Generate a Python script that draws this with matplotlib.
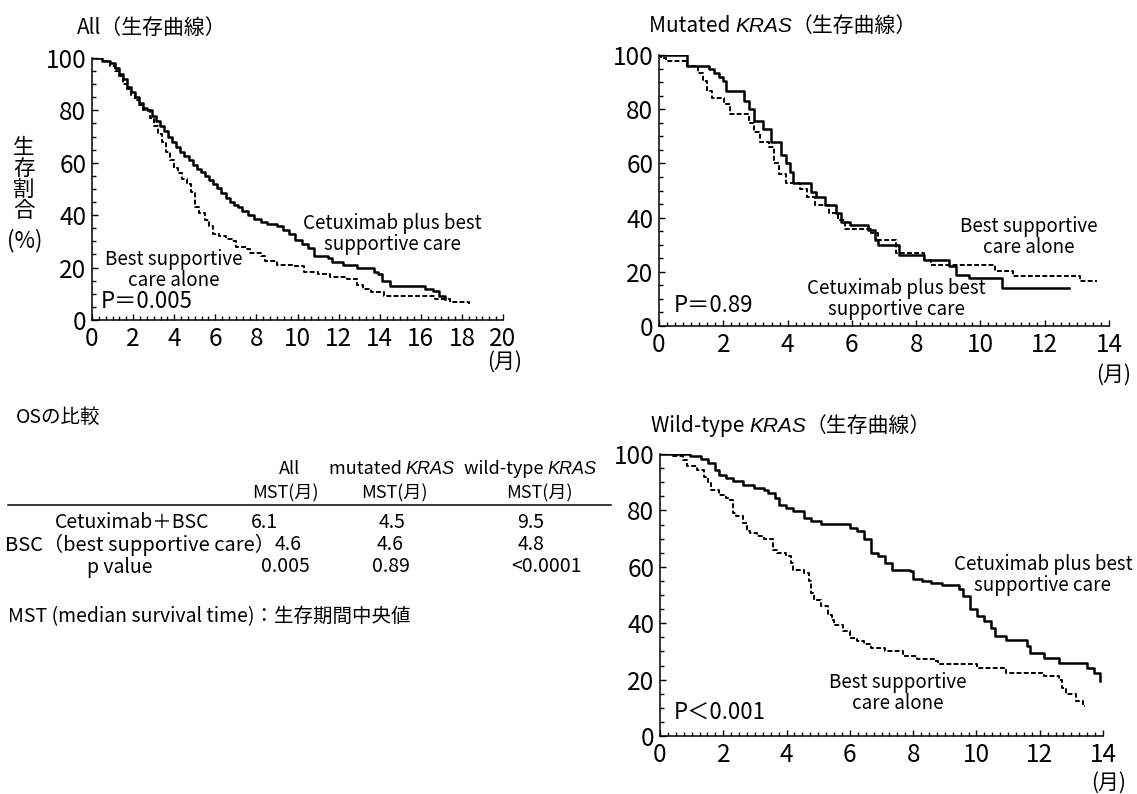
import matplotlib
matplotlib.use("Agg")
import matplotlib.pyplot as plt
from matplotlib.lines import Line2D
from matplotlib.offsetbox import TextArea, HPacker, AnchoredOffsetbox
from matplotlib.ticker import MultipleLocator

plt.rcParams['font.family'] = ['Noto Sans CJK JP', 'DejaVu Sans']

# --- All (生存曲線) ---
all_cet_t = [0, 0.5, 0.9, 1.1, 1.3, 1.5, 1.7, 1.9, 2.1, 2.3, 2.5, 2.7, 2.9, 3.1, 3.3,
             3.5, 3.7, 3.9, 4.1, 4.3, 4.5, 4.7, 4.9, 5.1, 5.3, 5.5, 5.7, 5.9, 6.1, 6.3,
             6.5, 6.7, 6.9, 7.1, 7.3, 7.6, 7.9, 8.2, 8.5, 9.0, 9.3, 9.6, 9.9, 10.2, 10.5,
             10.8, 11.5, 11.7, 12.2, 12.9, 13.7, 13.9, 14.1, 14.5, 16.2, 16.6, 16.9, 17.2]
all_cet_s = [100, 99, 98, 96, 94, 92, 89, 87, 85, 83, 81, 80, 78, 76, 74,
             72, 70, 68, 66, 64, 62.5, 61, 59, 57.5, 56.5, 55, 53.5, 52, 50.5, 48.5,
             46.5, 45, 44, 43, 41.5, 40, 38.5, 37.5, 36.5, 36, 34.5, 33, 30.5, 29, 27.5,
             24.5, 23.5, 22, 21, 20, 18.5, 17.5, 15, 13, 12, 11, 9, 8]
all_bsc_t = [0, 0.5, 0.9, 1.1, 1.3, 1.5, 1.7, 1.9, 2.1, 2.3, 2.5, 2.8, 3.0, 3.2, 3.4,
             3.6, 3.8, 4.0, 4.2, 4.4, 4.6, 4.8, 5.0, 5.2, 5.5, 5.7, 5.9, 6.2, 6.5, 6.8,
             7.0, 7.5, 7.7, 8.2, 8.4, 9.0, 9.8, 10.3, 11.0, 11.6, 12.4, 12.9, 13.2, 13.6,
             14.2, 16.7, 17.4, 18.35]
all_bsc_s = [100, 99, 97, 95, 93, 90, 88, 86, 84, 82, 80, 77, 74, 71, 68,
             64, 61, 58, 56, 54, 52, 49, 43, 41, 38, 36, 33, 32, 31, 30,
             28, 27, 25.5, 24.5, 22.5, 21, 20.5, 18.5, 17.5, 16.5, 15.5, 13.5, 12, 10.5,
             9, 8.2, 7, 6]

# --- Mutated KRAS ---
mut_cet_t = [0, 0.88, 1.54, 1.7, 1.87, 1.98, 2.09, 2.64, 2.8, 2.97, 3.25, 3.47, 3.8,
             3.96, 4.07, 4.16, 4.73, 4.9, 5.17, 5.5, 5.67, 5.94, 6.49, 6.71, 6.82, 7.48,
             8.25, 9.02, 9.24, 9.63, 10.67, 12.76]
mut_cet_s = [100, 96, 94.7, 93.5, 92, 90.5, 86.8, 83, 80, 75.8, 72.7, 67.8, 63,
             60, 57, 52.6, 49.5, 47.7, 44.6, 41.6, 38.5, 37.3, 35.5, 31.8, 30, 26.3,
             24.4, 22, 19, 17.7, 14, 14]
mut_bsc_t = [0, 0.05, 0.22, 0.88, 1.21, 1.38, 1.49, 1.65, 2.03, 2.2, 2.8, 2.97, 3.14,
             3.41, 3.58, 3.74, 3.96, 4.4, 4.62, 4.84, 5.28, 5.56, 5.78, 6.6, 6.82, 7.37,
             8.25, 8.47, 10.45, 11.0, 13.09, 13.64]
mut_bsc_s = [100, 99, 97.8, 96, 93.5, 90.5, 86.8, 84.3, 81.9, 78.2, 75, 71.5, 67.8,
             66, 60, 56, 52.6, 50.7, 47.7, 44.6, 41.6, 39, 35.7, 34.2, 31.8, 26.9,
             24.4, 22.6, 20.2, 18.3, 16.5, 16.5]

# --- Wild-type KRAS ---
wt_cet_t = [0, 0.95, 1.29, 1.51, 1.74, 1.85, 2.07, 2.3, 2.63, 2.97, 3.3, 3.42, 3.64,
            3.75, 3.98, 4.2, 4.54, 4.76, 5.1, 5.99, 6.21, 6.44, 6.66, 6.89, 7.11, 7.33,
            7.89, 8.0, 8.29, 8.57, 8.9, 9.46, 9.57, 9.8, 10.02, 10.25, 10.47, 10.58,
            10.92, 11.59, 11.7, 12.15, 12.6, 13.49, 13.72, 13.89, 13.92]
wt_cet_s = [100, 99.4, 98.2, 96.8, 94.4, 92.6, 91.5, 90.3, 89, 88, 87.2, 86.2, 84.4,
            82, 80.9, 79.7, 77.3, 76.2, 75.2, 73.8, 72.6, 69.7, 64.9, 63.7, 61.4, 59,
            58.4, 55.5, 54.9, 54.3, 53.7, 52, 49.6, 44.9, 42.5, 40.7, 38.4, 35.4,
            34.2, 31.9, 29.5, 27.7, 26, 24.2, 22.4, 19.5, 19.5]
wt_bsc_t = [0, 0.39, 0.73, 0.84, 1.18, 1.4, 1.51, 1.62, 1.85, 2.07, 2.18, 2.3, 2.41,
            2.63, 2.74, 2.86, 3.08, 3.3, 3.58, 3.7, 3.98, 4.14, 4.2, 4.54, 4.7, 4.76,
            4.87, 5.1, 5.32, 5.43, 5.49, 5.77, 5.99, 6.21, 6.44, 6.66, 7.11, 7.67, 8.12,
            8.68, 8.79, 10.02, 10.92, 12.15, 12.6, 12.71, 12.82, 13.16, 13.38, 13.42]
wt_bsc_s = [100, 99.2, 98, 95.6, 94.4, 92, 89.7, 87.4, 85.6, 84.4, 83.8, 79, 78,
            75.5, 72.6, 72, 70.8, 69.7, 66, 65, 63.7, 61.4, 59, 57.9, 54.9, 50.8,
            48.4, 46, 43, 41.3, 39.5, 37.2, 34.8, 33.6, 32.5, 31.3, 30, 28.3, 27.2,
            26.6, 25.4, 24.2, 22.4, 21.3, 20, 17.1, 14.8, 12.4, 10.6, 10.6]

# --- OSの比較 (table) ---
row_labels = ['Cetuximab＋BSC', 'BSC（best supportive care）', 'p value']
mst_all = ['6.1', '4.6', '0.005']
mst_mut = ['4.5', '4.6', '0.89']
mst_wt = ['9.5', '4.8', '<0.0001']

W, H = 1137, 794
fig = plt.figure(figsize=(W / 100, H / 100), dpi=100)


def px(x, y):
    return x / W, 1 - y / H


def make_axes(left, top, right, bottom, xmax, xminor):
    ax = fig.add_axes([left / W, 1 - bottom / H, (right - left) / W, (bottom - top) / H])
    ax.set_xlim(0, xmax)
    ax.set_ylim(0, 100)
    ax.patch.set_alpha(0)
    for s in ['top', 'right']:
        ax.spines[s].set_visible(False)
    for s in ['left', 'bottom']:
        ax.spines[s].set_linewidth(1.1)
    ax.xaxis.set_major_locator(MultipleLocator(2))
    ax.xaxis.set_minor_locator(MultipleLocator(xminor))
    ax.yaxis.set_major_locator(MultipleLocator(20))
    ax.yaxis.set_minor_locator(MultipleLocator(5))
    ax.tick_params(which='both', direction='in', width=1.0, labelsize=17.5, pad=4)
    ax.tick_params(which='major', length=4.5)
    ax.tick_params(which='minor', length=3)
    return ax


def curves(ax, t1, s1, t2, s2):
    ax.step(t1, s1, where='post', color='black', lw=1.8)
    ax.step(t2, s2, where='post', color='black', lw=1.4, linestyle=(0, (2.5, 1.2)))


def mixed(x, y, parts, size, loc='center left'):
    areas = []
    for txt, italic in parts:
        if italic:
            props = dict(fontsize=size, fontstyle='italic', family=['Liberation Sans'])
        else:
            props = dict(fontsize=size)
        areas.append(TextArea(txt, textprops=props))
    box = HPacker(children=areas, align='baseline', pad=0, sep=0)
    anchored = AnchoredOffsetbox(loc=loc, child=box, pad=0, borderpad=0, frameon=False,
                                 bbox_to_anchor=px(x, y), bbox_transform=fig.transFigure)
    fig.add_artist(anchored)


# パネル1: All
ax1 = make_axes(92, 58, 503, 320, 20, 1 / 3)
curves(ax1, all_cet_t, all_cet_s, all_bsc_t, all_bsc_s)
ax1.text(14.6, 33, 'Cetuximab plus best\nsupportive care', ha='center', va='center',
         fontsize=13.5, linespacing=1.0)
ax1.text(4.0, 19, 'Best supportive\ncare alone', ha='center', va='center',
         fontsize=13.5, linespacing=1.0)
ax1.text(0.45, 7, 'P＝0.005', ha='left', va='center', fontsize=16)
fig.text(*px(77, 28), 'All（生存曲線）', ha='left', va='center', fontsize=15)
fig.text(*px(505, 362), '(月)', ha='center', va='center', fontsize=15)
for i, ch in enumerate('生存割合'):
    fig.text(*px(24, 148 + i * 21), ch, ha='center', va='center', fontsize=15.5)
fig.text(*px(25, 241), '(%)', ha='center', va='center', fontsize=16)

# パネル2: Mutated KRAS
ax2 = make_axes(659, 55, 1109, 326, 14, 0.25)
curves(ax2, mut_cet_t, mut_cet_s, mut_bsc_t, mut_bsc_s)
ax2.text(11.5, 32.7, 'Best supportive\ncare alone', ha='center', va='center',
         fontsize=13.5, linespacing=1.0)
ax2.text(7.4, 9.8, 'Cetuximab plus best\nsupportive care', ha='center', va='center',
         fontsize=13.5, linespacing=1.0)
ax2.text(0.45, 7.6, 'P＝0.89', ha='left', va='center', fontsize=16)
mixed(649, 26, [('Mutated ', False), ('KRAS', True), ('（生存曲線）', False)], 15)
fig.text(*px(1114, 375), '(月)', ha='center', va='center', fontsize=15)

# パネル3: Wild-type KRAS
ax3 = make_axes(660, 454, 1103, 736, 14, 0.25)
curves(ax3, wt_cet_t, wt_cet_s, wt_bsc_t, wt_bsc_s)
ax3.text(12.1, 57, 'Cetuximab plus best\nsupportive care', ha='center', va='center',
         fontsize=13.5, linespacing=1.0)
ax3.text(7.5, 15.3, 'Best supportive\ncare alone', ha='center', va='center',
         fontsize=13.5, linespacing=1.0)
ax3.text(0.45, 8.3, 'P＜0.001', ha='left', va='center', fontsize=16)
mixed(651, 426, [('Wild-type ', False), ('KRAS', True), ('（生存曲線）', False)], 15)
fig.text(*px(1109, 783), '(月)', ha='center', va='center', fontsize=15)

# 表: OSの比較
fig.text(*px(16, 417), 'OSの比較', ha='left', va='center', fontsize=14)
fig.text(*px(290, 469), 'All', ha='center', va='center', fontsize=13)
mixed(392, 469, [('mutated ', False), ('KRAS', True)], 13, loc='center')
mixed(530, 469, [('wild-type ', False), ('KRAS', True)], 13, loc='center')
for xc in [285, 394, 539]:
    fig.text(*px(xc, 493), 'MST(月)', ha='center', va='center', fontsize=13)
fig.add_artist(Line2D([8 / W, 611 / W], [1 - 505 / H, 1 - 505 / H], color='black',
                      lw=1.1, transform=fig.transFigure))

row_y = [523, 545, 567]
fig.text(*px(132, row_y[0]), row_labels[0], ha='center', va='center', fontsize=14)
fig.text(*px(5, row_y[1]), row_labels[1], ha='left', va='center', fontsize=14.5)
fig.text(*px(120, row_y[2]), row_labels[2], ha='center', va='center', fontsize=14)
for vals, xs in [(mst_all, [264, 288, 285]), (mst_mut, [392, 390, 391]),
                 (mst_wt, [531, 531, 547])]:
    for v, xc, yc in zip(vals, xs, row_y):
        fig.text(*px(xc, yc), v, ha='center', va='center', fontsize=14)

fig.text(*px(8, 617), 'MST (median survival time)：生存期間中央値', ha='left', va='center',
         fontsize=14)

fig.savefig('out.png', dpi=100)
